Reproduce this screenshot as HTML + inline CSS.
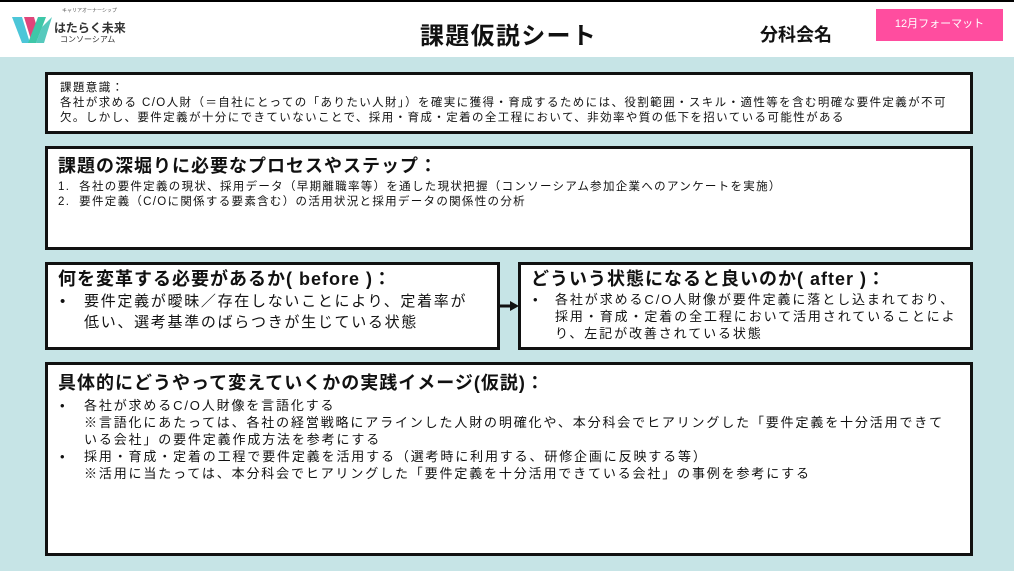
<!DOCTYPE html>
<html><head><meta charset="utf-8"><style>
*{margin:0;padding:0;box-sizing:border-box}
body{width:1014px;height:571px;position:relative;background:#c6e4e6;font-family:"Liberation Sans","Noto Sans CJK JP",sans-serif;color:#111;overflow:hidden}
.hdr{position:absolute;left:0;top:0;width:1014px;height:57px;background:#fff;border-top:2px solid #000}
.box{position:absolute;background:#fff;border:3px solid #111}
.t{position:absolute;white-space:nowrap}
.s{font-size:11.5px;line-height:14px;letter-spacing:1.4px}
.h{font-size:18px;line-height:22px;font-weight:bold;letter-spacing:1px}
.m{font-size:15px;line-height:19px;letter-spacing:1.7px}
</style></head><body>
<div class="hdr">
 <svg style="position:absolute;left:12px;top:15px" width="40" height="26"><polygon points="0,0 10,0 18,26 10,26" fill="#4cc6d8"/><polygon points="12,0 22,0 26,14 20,26" fill="#e0457a"/><polygon points="16,26 26,0 34,0 24,26" fill="#3ec7a8"/><polygon points="24,26 30,10 40,0 32,26" fill="#56c9bd"/></svg>
 <div class="t" style="left:62px;top:5px;font-size:5px;color:#555">キャリアオーナーシップ</div>
 <div class="t" style="left:54px;top:17px;font-size:12px;font-weight:bold;color:#333">はたらく未来</div>
 <div class="t" style="left:60px;top:32px;font-size:8px;color:#333">コンソーシアム</div>
 <div class="t" style="left:420px;top:14px;font-size:24px;font-weight:bold;letter-spacing:1.3px">課題仮説シート</div>
 <div class="t" style="left:760px;top:19px;font-size:18px;font-weight:bold">分科会名</div>
 <div style="position:absolute;left:876px;top:7px;width:127px;height:32px;background:#ff4d9f;color:#fff;font-size:11px;text-align:center;line-height:31px">12月フォーマット</div>
</div>
<div class="box" style="left:45px;top:72px;width:928px;height:62px"></div>
<div class="t s" style="left:60px;top:81px">課題意識：</div>
<div class="t s" style="left:60px;top:96px">各社が求める C/O人財（＝自社にとっての「ありたい人財」）を確実に獲得・育成するためには、役割範囲・スキル・適性等を含む明確な要件定義が不可</div>
<div class="t s" style="left:60px;top:111px">欠。しかし、要件定義が十分にできていないことで、採用・育成・定着の全工程において、非効率や質の低下を招いている可能性がある</div>

<div class="box" style="left:45px;top:146px;width:928px;height:104px"></div>
<div class="t h" style="left:58px;top:155px">課題の深堀りに必要なプロセスやステップ：</div>
<div class="t s" style="left:58px;top:180px;letter-spacing:1.3px">1.&nbsp; 各社の要件定義の現状、採用データ（早期離職率等）を通した現状把握（コンソーシアム参加企業へのアンケートを実施）</div>
<div class="t s" style="left:58px;top:195px;letter-spacing:1.3px">2.&nbsp; 要件定義（C/Oに関係する要素含む）の活用状況と採用データの関係性の分析</div>

<div class="box" style="left:45px;top:262px;width:455px;height:88px"></div>
<div class="t h" style="left:58px;top:268px">何を変革する必要があるか( before )：</div>
<div class="t m" style="left:60px;top:292px">•</div>
<div class="t m" style="left:84px;top:292px">要件定義が曖昧／存在しないことにより、定着率が</div>
<div class="t m" style="left:84px;top:313px">低い、選考基準のばらつきが生じている状態</div>
<svg style="position:absolute;left:498px;top:300px" width="22" height="12"><line x1="0" y1="6" x2="14" y2="6" stroke="#111" stroke-width="3"/><polygon points="12,1 21,6 12,11" fill="#111"/></svg>

<div class="box" style="left:518px;top:262px;width:455px;height:88px"></div>
<div class="t h" style="left:531px;top:268px">どういう状態になると良いのか( after )：</div>
<div class="t" style="left:533px;top:292px;font-size:13px">•</div>
<div class="t" style="left:555px;top:291px;font-size:13px;line-height:17px;letter-spacing:1.9px">各社が求めるC/O人財像が要件定義に落とし込まれており、<br>採用・育成・定着の全工程において活用されていることによ<br>り、左記が改善されている状態</div>

<div class="box" style="left:45px;top:362px;width:928px;height:194px"></div>
<div class="t h" style="left:58px;top:372px">具体的にどうやって変えていくかの実践イメージ(仮説)：</div>
<div class="t" style="left:60px;top:397px;font-size:13px;line-height:17px">•<br><br><br>•</div>
<div class="t" style="left:84px;top:397px;font-size:13px;line-height:17px;letter-spacing:1.85px">各社が求めるC/O人財像を言語化する<br>※言語化にあたっては、各社の経営戦略にアラインした人財の明確化や、本分科会でヒアリングした「要件定義を十分活用できて<br>いる会社」の要件定義作成方法を参考にする<br>採用・育成・定着の工程で要件定義を活用する（選考時に利用する、研修企画に反映する等）<br>※活用に当たっては、本分科会でヒアリングした「要件定義を十分活用できている会社」の事例を参考にする</div>
</body></html>
